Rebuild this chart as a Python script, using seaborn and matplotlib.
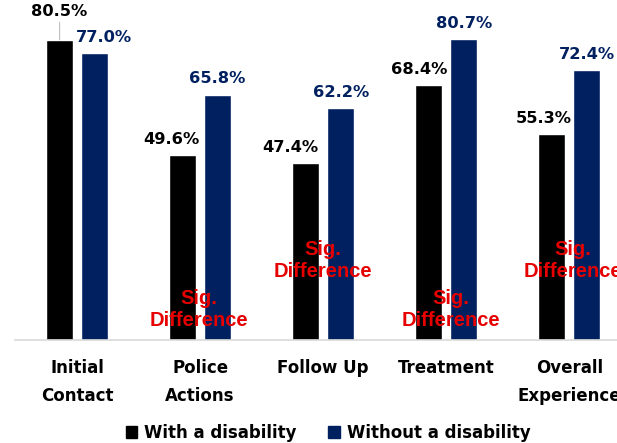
import pandas as pd
import matplotlib
matplotlib.use("Agg")
import matplotlib.pyplot as plt
import seaborn as sns

categories = ["Initial\nContact", "Police\nActions", "Follow Up", "Treatment", "Overall\nExperience"]
groups = ["With a disability", "Without a disability"]
with_disability = [80.5, 49.6, 47.4, 68.4, 55.3]
without_disability = [77.0, 65.8, 62.2, 80.7, 72.4]
sig_diff = [False, True, True, True, True]

colors = ["#000000", "#002060"]
red = "#E60000"

df = pd.DataFrame({
    "Category": categories * 2,
    "Group": [groups[0]] * 5 + [groups[1]] * 5,
    "Value": with_disability + without_disability,
})

sns.set_style("white")
plt.rcParams["font.family"] = ["DejaVu Sans"]
plt.rcParams["text.color"] = "black"
plt.rcParams["xtick.color"] = "black"

fig = plt.figure(figsize=(6.17, 4.43), dpi=100)
ax = fig.add_axes([15 / 617, 103 / 443, 602 / 617, 340 / 443])

sns.barplot(data=df, x="Category", y="Value", hue="Group", palette=colors,
            width=0.568, gap=0.23, ax=ax, legend=False, saturation=1)

ax.set_ylim(0, 91.2)
ax.set_xlim(-0.504, 4.387)

# label nudges (points), to mimic the hand-placed labels
label_dx = [[0, -8, -11, -7, -6], [6.5, 0, 0, 0, 0]]
label_dy = [[15, 6, 6, 6, 6], [6, 6, 6, 6, 6]]
series = [with_disability, without_disability]
for gi, cont in enumerate(ax.containers):
    for ci, bar in enumerate(cont):
        xc = bar.get_x() + bar.get_width() / 2
        val = series[gi][ci]
        kw = {}
        if gi == 0 and ci == 0:
            kw["arrowprops"] = dict(arrowstyle="-", color="#bfbfbf", lw=0.8,
                                    shrinkA=0, shrinkB=0)
        ax.annotate(f"{val:.1f}%", (xc, val), xytext=(label_dx[gi][ci], label_dy[gi][ci]),
                    textcoords="offset points", ha="center", va="bottom",
                    fontsize=11.7, fontweight="bold", color=colors[gi], **kw)

# significance notes
sig_pos = [None, (-0.01, 8.3), (0.0, 21.3), (0.04, 8.3), (0.03, 21.3)]
for i, s in enumerate(sig_diff):
    if s:
        dx, y = sig_pos[i]
        ax.text(i + dx, y, "Sig.\nDifference", ha="center", va="center",
                color=red, fontsize=14.5, fontweight="bold",
                family=["Liberation Sans", "DejaVu Sans"], linespacing=1.2,
                clip_on=False)

for sp in ["top", "right", "left"]:
    ax.spines[sp].set_visible(False)
ax.spines["bottom"].set_color("#d9d9d9")
ax.spines["bottom"].set_linewidth(1.2)
ax.set_yticks([])
ax.set_xlabel("")
ax.set_ylabel("")
ax.tick_params(axis="x", length=0, pad=14, colors="black")
for t in ax.get_xticklabels():
    t.set_fontsize(12)
    t.set_fontweight("bold")
    t.set_linespacing(1.65)
    t.set_verticalalignment("top")
    t.set_color("black")

handles = [plt.Rectangle((0, 0), 1, 1, color=c) for c in colors]
fig.legend(handles, groups, loc="center", bbox_to_anchor=(328 / 617, 1 - 433 / 443),
           ncol=2, frameon=False, handlelength=0.7, handleheight=0.7,
           handletextpad=0.4, columnspacing=1.9,
           prop={"weight": "bold", "size": 12})

fig.savefig("out.png", dpi=100)
